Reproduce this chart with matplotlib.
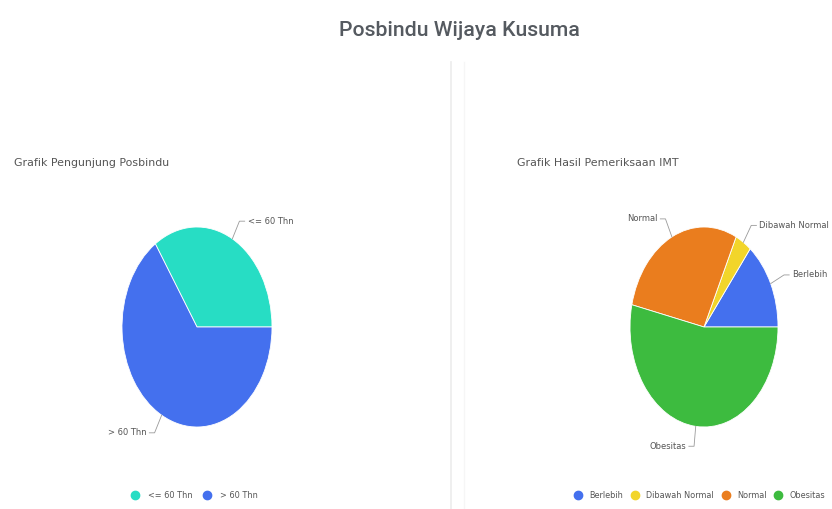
import matplotlib
matplotlib.use("Agg")
import matplotlib.pyplot as plt
import numpy as np
from matplotlib.lines import Line2D

# ---- data ----
title = "Posbindu Wijaya Kusuma"
left_title = "Grafik Pengunjung Posbindu"
left_labels = ["<= 60 Thn", "> 60 Thn"]
left_values = [11, 21]
left_colors = ["#27DDC4", "#4470EE"]

right_title = "Grafik Hasil Pemeriksaan IMT"
right_labels = ["Berlebih", "Dibawah Normal", "Normal", "Obesitas"]
right_values = [4, 1, 8, 15]
right_colors = ["#4470EE", "#F2D52A", "#EA7D1E", "#3DBB3F"]

W, H = 832, 509
fig = plt.figure(figsize=(W / 100, H / 100), dpi=100)
plt.rcParams['font.family'] = ['Roboto', 'DejaVu Sans']

def fx(px):
    return px / W

def fy(py):
    return 1 - py / H

fig.text(fx(459), fy(30), title, ha="center", va="center", fontsize=15.3,
         color="#555a60", fontweight="medium")

# divider lines
fig.add_artist(Line2D([fx(451), fx(451)], [fy(62), fy(509)], color="#ececec", lw=1.2))
fig.add_artist(Line2D([fx(464), fx(464)], [fy(62), fy(509)], color="#f6f6f6", lw=1.0))

fig.text(fx(14), fy(163), left_title, ha="left", va="center", fontsize=7.9,
         color="#555555", family="DejaVu Sans")
fig.text(fx(517), fy(163), right_title, ha="left", va="center", fontsize=7.9,
         color="#555555", family="DejaVu Sans")


def draw_pie(x0, x1, y0, y1, values, colors, labels):
    ax = fig.add_axes([fx(x0), fy(y1), fx(x1) - fx(x0), fy(y0) - fy(y1)])
    wedges, _ = ax.pie(values, colors=colors, startangle=0, counterclock=True,
                       radius=1, wedgeprops=dict(linewidth=0.6, edgecolor="white"))
    ax.set_aspect("auto")
    ax.set_xlim(-1, 1)
    ax.set_ylim(-1, 1)
    ax.axis("off")
    for w, lab in zip(wedges, labels):
        ang = np.deg2rad((w.theta1 + w.theta2) / 2)
        c, s = np.cos(ang), np.sin(ang)
        p0 = (1.0 * c, 1.0 * s)
        p1 = (1.2 * c, 1.2 * s)
        side = 1 if c >= 0 else -1
        p2 = (p1[0] + 0.07 * side, p1[1])
        ax.plot([p0[0], p1[0], p2[0]], [p0[1], p1[1], p2[1]], color="#9a9a9a",
                lw=0.6, clip_on=False)
        ax.text(p2[0] + 0.04 * side, p2[1], lab, ha="left" if side > 0 else "right",
                va="center", fontsize=6.0, color="#555555", clip_on=False,
                family="DejaVu Sans")
    return ax, wedges


axL, wL = draw_pie(122, 272, 227, 427, left_values, left_colors, left_labels)
axR, wR = draw_pie(630, 778, 227, 427, right_values, right_colors, right_labels)


def legend(ax, labels, colors, cx, cy, pad, colsp):
    handles = [Line2D([], [], marker="o", ls="", markersize=6, markerfacecolor=c,
                      markeredgecolor=c) for c in colors]
    ax.legend(handles, labels, loc="center", bbox_to_anchor=(cx, cy),
              bbox_transform=fig.transFigure, ncol=len(labels), frameon=False,
              prop=dict(family="DejaVu Sans", size=5.9), handletextpad=pad,
              columnspacing=colsp, labelcolor="#555555", handlelength=0.8,
              borderpad=0.2)


legend(axL, left_labels, left_colors, fx(195), fy(495), 1.2, 1.4)
legend(axR, right_labels, right_colors, fx(700), fy(495), 1.0, 1.0)

fig.savefig("out.png", dpi=100, facecolor="white")
